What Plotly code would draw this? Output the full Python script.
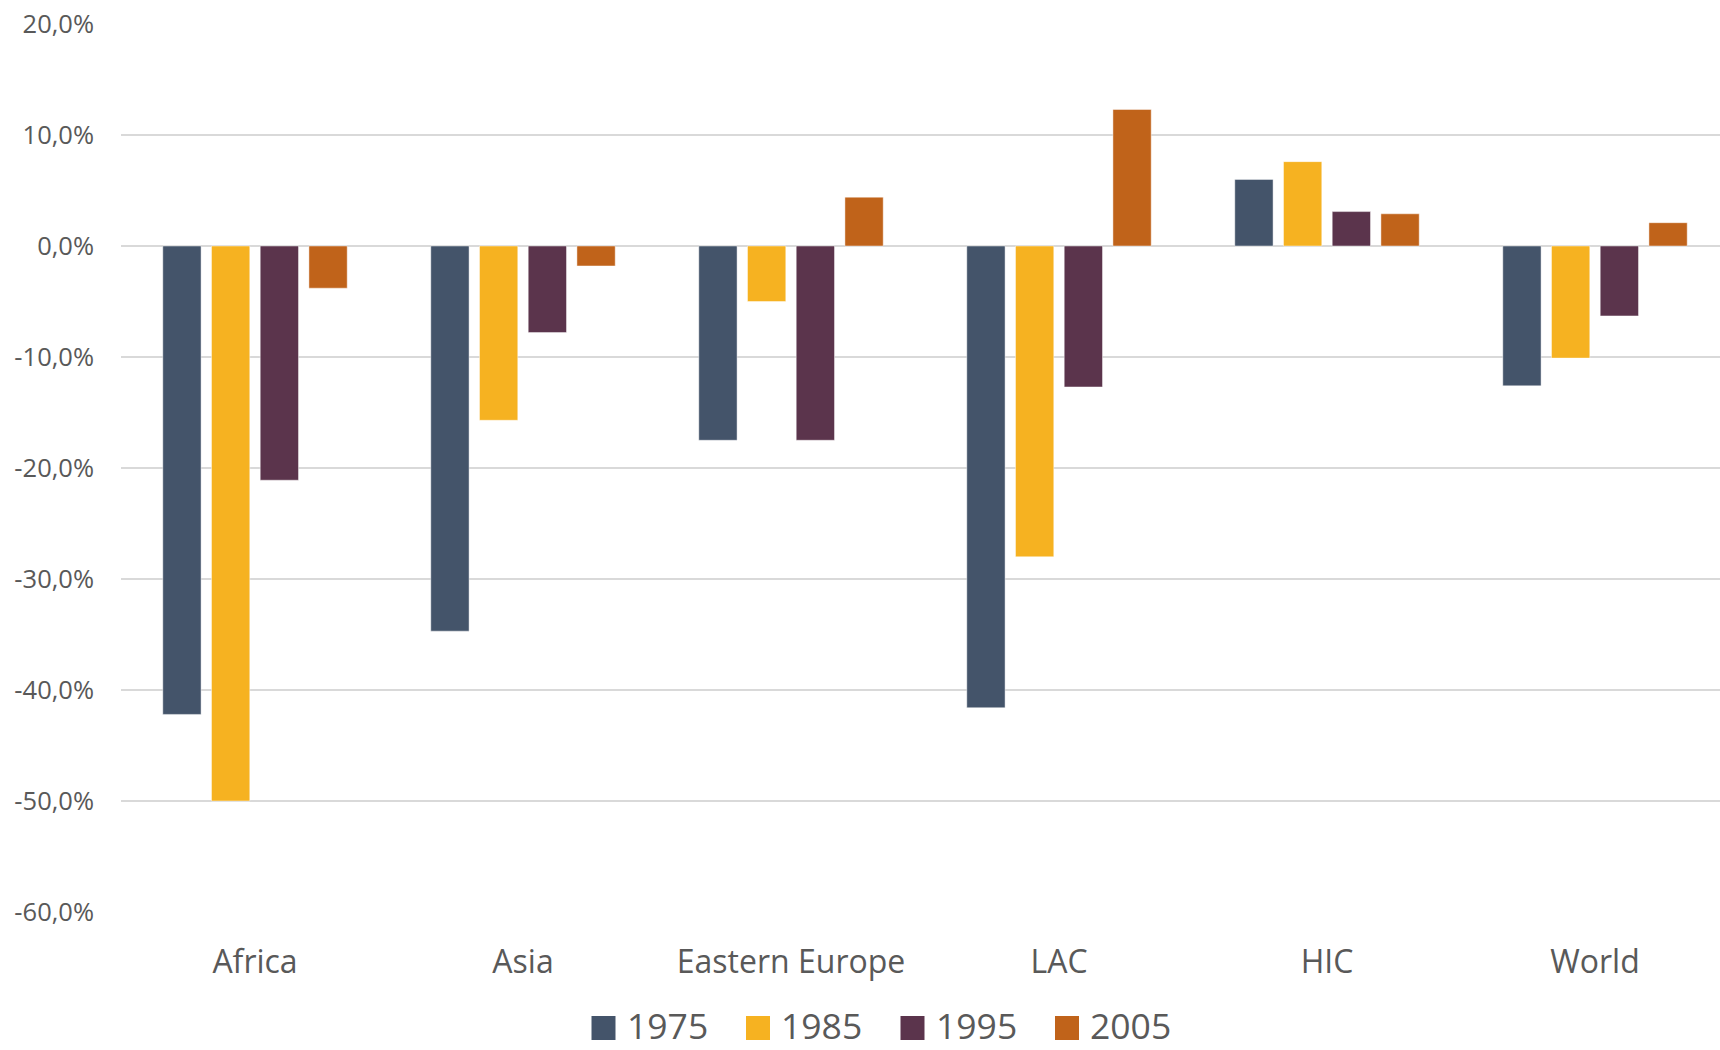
import plotly.graph_objects as go

categories = ["Africa", "Asia", "Eastern Europe", "LAC", "HIC", "World"]
series_names = ["1975", "1985", "1995", "2005"]
v1975 = [-42.2, -34.7, -17.5, -41.6, 6.0, -12.6]
v1985 = [-50.0, -15.7, -5.0, -28.0, 7.6, -10.1]
v1995 = [-21.1, -7.8, -17.5, -12.7, 3.1, -6.3]
v2005 = [-3.8, -1.8, 4.4, 12.3, 2.9, 2.1]
colors = ["#44546A", "#F6B221", "#5B344C", "#C0631A"]
tick_vals = [20, 10, 0, -10, -20, -30, -40, -50, -60]
tick_text = ["20,0%", "10,0%", "0,0%", "-10,0%", "-20,0%", "-30,0%", "-40,0%", "-50,0%", "-60,0%"]

W, H = 1720, 1050
ML, MR, MT, MB = 121, 0, 24, 138
PW, PH = W - ML - MR, H - MT - MB

fig = go.Figure()
for name, vals, col in zip(series_names, [v1975, v1985, v1995, v2005], colors):
    fig.add_trace(go.Bar(
        x=categories, y=vals, name=name, showlegend=False,
        marker=dict(color=col, line=dict(color="rgba(255,255,255,0.45)", width=1)),
    ))

# manual legend (large square swatches like the reference)
def px_x(p):
    return (p - ML) / PW

def px_y(p):
    return (H - MB - p) / PH

start_x, pitch, sw = 591.5, 154.5, 24
y_top, y_bot = 1016, 1040
for i, (name, col) in enumerate(zip(series_names, colors)):
    x0 = start_x + i * pitch
    fig.add_shape(type="rect", xref="paper", yref="paper",
                  x0=px_x(x0), x1=px_x(x0 + sw), y0=px_y(y_bot), y1=px_y(y_top),
                  fillcolor=col, line=dict(width=0))
    fig.add_annotation(xref="paper", yref="paper", x=px_x(x0 + sw + 10), y=px_y(1050),
                       text=name, showarrow=False, xanchor="left", yanchor="bottom",
                       borderpad=0,
                       font=dict(family="Open Sans", size=35.5, color="#595959"))

fig.update_layout(
    width=W, height=H,
    margin=dict(l=ML, r=MR, t=MT, b=MB),
    paper_bgcolor="white", plot_bgcolor="white",
    barmode="group", bargap=0.273, bargroupgap=0.214,
    font=dict(family="Open Sans", color="#595959"),
    showlegend=False,
)
fig.update_xaxes(
    type="category", range=[-0.5, -0.5 + PW / 268.0],
    showgrid=False, showline=False, zeroline=False,
    ticks="outside", ticklen=22, tickcolor="rgba(0,0,0,0)",
    tickfont=dict(family="Open Sans", size=32, color="#595959"),
)
fig.update_yaxes(
    range=[-60, 20], tickvals=tick_vals, ticktext=tick_text,
    showgrid=True, gridcolor="#D9D9D9", gridwidth=1.5,
    zeroline=True, zerolinecolor="#D9D9D9", zerolinewidth=1.5,
    showline=False, ticks="", ticklabelstandoff=26,
    tickfont=dict(family="Open Sans", size=25.5, color="#595959"),
)

fig.write_html("out.html")
